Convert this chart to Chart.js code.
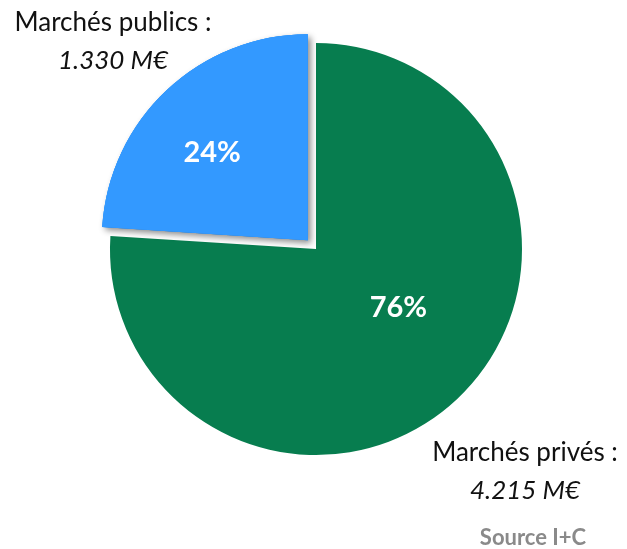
<!DOCTYPE html>
<html>
<head>
<meta charset="utf-8">
<script src="https://cdn.jsdelivr.net/npm/chart.js@4"></script>
<style>
  html, body { margin: 0; padding: 0; background: #fff; }
  #wrap { position: relative; width: 627px; height: 549px; }
</style>
</head>
<body>
<div id="wrap"><canvas id="pie-chart" width="627" height="549"></canvas></div>
<script>
// values in M€
const labels = ["Marchés privés", "Marchés publics"];
const amounts = [4215, 1330];
const amountText = ["4.215 M€", "1.330 M€"];
const colors = ["#077D4F", "#3399FF"];

const total = amounts.reduce((a, b) => a + b, 0);

// percent labels inside slices + blue slice shadow
const sliceLabels = {
  id: "sliceLabels",
  afterDatasetsDraw(chart) {
    const ctx = chart.ctx;
    const meta = chart.getDatasetMeta(0);
    // redraw exploded slice with its drop shadow on top of the green one
    const blue = meta.data[1];
    ctx.save();
    ctx.shadowColor = "rgba(0,0,0,0.45)";
    ctx.shadowBlur = 6;
    ctx.shadowOffsetX = 3;
    ctx.shadowOffsetY = 3;
    blue.draw(ctx);
    ctx.restore();
    blue.draw(ctx);

    // label placement: fraction of radius and angle nudge (degrees)
    const frac = [0.49, 0.63];
    const nudge = [-11.5, -4.3];
    const shift = [0, 12];
    ctx.save();
    ctx.fillStyle = "#fff";
    ctx.font = "bold 29px Lato";
    ctx.textAlign = "center";
    ctx.textBaseline = "middle";
    meta.data.forEach((arc, i) => {
      const p = arc.getProps(["x", "y", "startAngle", "endAngle", "outerRadius"], true);
      const mid = (p.startAngle + p.endAngle) / 2;
      const cx = p.x + Math.cos(mid) * shift[i];
      const cy = p.y + Math.sin(mid) * shift[i];
      const a = mid + nudge[i] * Math.PI / 180;
      const r = p.outerRadius * frac[i];
      const pct = Math.round(amounts[i] / total * 100) + "%";
      ctx.fillText(pct, cx + Math.cos(a) * r, cy + Math.sin(a) * r);
    });
    ctx.restore();

    // outside category labels
    const c = meta.data[0];
    ctx.save();
    ctx.fillStyle = "#111";
    ctx.textAlign = "center";
    ctx.textBaseline = "middle";
    ctx.font = "26px Lato";
    ctx.fillText(labels[1] + " :", c.x - 203, c.y - 226);
    ctx.font = "italic 26px Lato";
    ctx.fillText(amountText[1], c.x - 203, c.y - 188);
    ctx.font = "26px Lato";
    ctx.fillText(labels[0] + " :", c.x + 209, c.y + 204);
    ctx.font = "italic 26px Lato";
    ctx.fillText(amountText[0], c.x + 209, c.y + 242);
    ctx.fillStyle = "#8a8a8a";
    ctx.font = "bold 22px Lato";
    ctx.fillText("Source I+C", c.x + 217, c.y + 289);
    ctx.restore();
  }
};

const config = {
  type: "pie",
  data: {
    labels: labels,
    datasets: [
      {
        data: amounts,
        backgroundColor: colors,
        borderWidth: 0,
        // arc offset is divided by 4 when drawn in Chart.js v4
        offset: [0, 48],
        hoverOffset: 0,
      },
    ],
  },
  options: {
    responsive: false,
    animation: false,
    radius: 206,
    layout: { padding: { left: 5, right: 0, top: 0, bottom: 51 } },
    plugins: {
      legend: { display: false },
      tooltip: { enabled: false },
    },
  },
  plugins: [sliceLabels],
};

new Chart(document.getElementById("pie-chart").getContext("2d"), config);
</script>
</body>
</html>
